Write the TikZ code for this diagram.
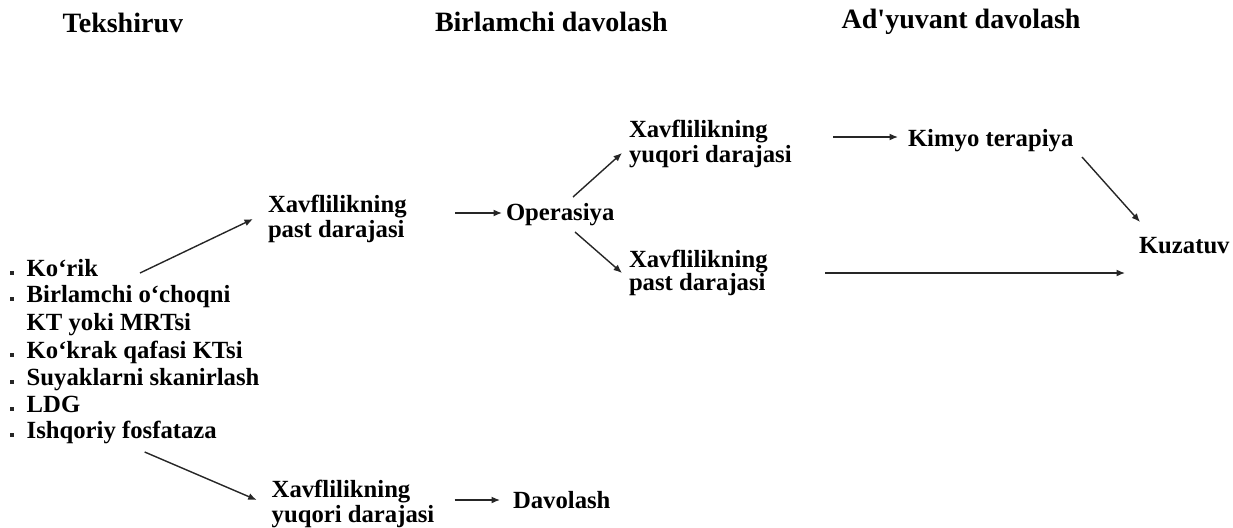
\documentclass[tikz,border=0pt]{standalone}
\usepackage{fontspec}
\setmainfont{Liberation Serif}[Ligatures=TeXOff]
\usetikzlibrary{arrows.meta}
% multi-line nodes are placed by the baseline of their last line
\tikzset{
  body/.style={anchor=base west, inner sep=0pt, outer sep=0pt, align=left,
    font=\fontsize{24.7}{25}\selectfont\bfseries},
  head/.style={anchor=base west, inner sep=0pt, outer sep=0pt,
    font=\fontsize{28}{30}\selectfont\bfseries},
  arr/.style={draw=black!85, line width=1.4pt, -{Latex[length=8.5pt,width=7pt]}},
  dot/.style={fill=black!85}
}
\begin{document}
\begin{tikzpicture}[x=1pt,y=-1pt]
\useasboundingbox (0,0) rectangle (1233,527);

% column headings
\node[head] (tek)  at (62.7,33) {Tekshiruv};
\node[head] (birl) at (435,32)  {Birlamchi davolash};
\node[head] (adyu) at (841.7,29) {Ad'yuvant davolash};

% examination list
\node[body] (korik)  at (26.7,276) {Ko‘rik};
\node[body, font=\fontsize{24.7}{28}\selectfont\bfseries] (ochoq) at (26.7,330) {Birlamchi o‘choqni\\KT yoki MRTsi};
\node[body] (kokrak) at (26.7,358) {Ko‘krak qafasi KTsi};
\node[body] (suyak)  at (26.7,385) {Suyaklarni skanirlash};
\node[body] (ldg)    at (26.7,412) {LDG};
\node[body] (ishq)   at (26.7,438) {Ishqoriy fosfataza};
\fill[dot] ([shift={(-16.5,-5.5)}]korik.base west) rectangle ++(4,4);
\fill[dot] ([shift={(-16.5,-33.5)}]ochoq.base west) rectangle ++(4,4);
\foreach \n in {kokrak,suyak,ldg,ishq}
  \fill[dot] ([shift={(-16.5,-5.5)}]\n.base west) rectangle ++(4,4);

% risk groups and treatments
\node[body] (low1)  at (268,237)   {Xavflilikning\\past darajasi};
\node[body] (oper)  at (506,220)   {Operasiya};
\node[body] (high1) at (629,162)   {Xavflilikning\\yuqori darajasi};
\node[body, font=\fontsize{24.7}{23.5}\selectfont\bfseries] (low2) at (629,290.5) {Xavflilikning\\past darajasi};
\node[body] (kimyo) at (908,146.7) {Kimyo terapiya};
\node[body] (kuz)   at (1139,253)  {Kuzatuv};
\node[body] (high2) at (271.7,522) {Xavflilikning\\yuqori darajasi};
\node[body] (dav)   at (513,508)   {Davolash};

% connectors
\draw[arr] ([shift={(113.3,-3)}]korik.base west) -- ([shift={(-15,-18)}]low1.base west);
\draw[arr] ([shift={(187,-24)}]low1.base west) -- ([shift={(-4,-7)}]oper.base west);
\draw[arr] ([shift={(67,-23)}]oper.base west) -- ([shift={(-7,-9)}]high1.base west);
\draw[arr] ([shift={(69,12)}]oper.base west) -- ([shift={(-7,-17.5)}]low2.base west);
\draw[arr] ([shift={(204,-25)}]high1.base west) -- ([shift={(-10,-9.7)}]kimyo.base west);
\draw[arr] ([shift={(174,10.3)}]kimyo.base west) -- ([shift={(1,-31)}]kuz.base west);
\draw[arr] ([shift={(196,-17.5)}]low2.base west) -- ([shift={(-14,20)}]kuz.base west);
\draw[arr] ([shift={(118,14)}]ishq.base west) -- ([shift={(-15,-22)}]high2.base west);
\draw[arr] ([shift={(183,-22)}]high2.base west) -- ([shift={(-13,-8)}]dav.base west);
\end{tikzpicture}
\end{document}
